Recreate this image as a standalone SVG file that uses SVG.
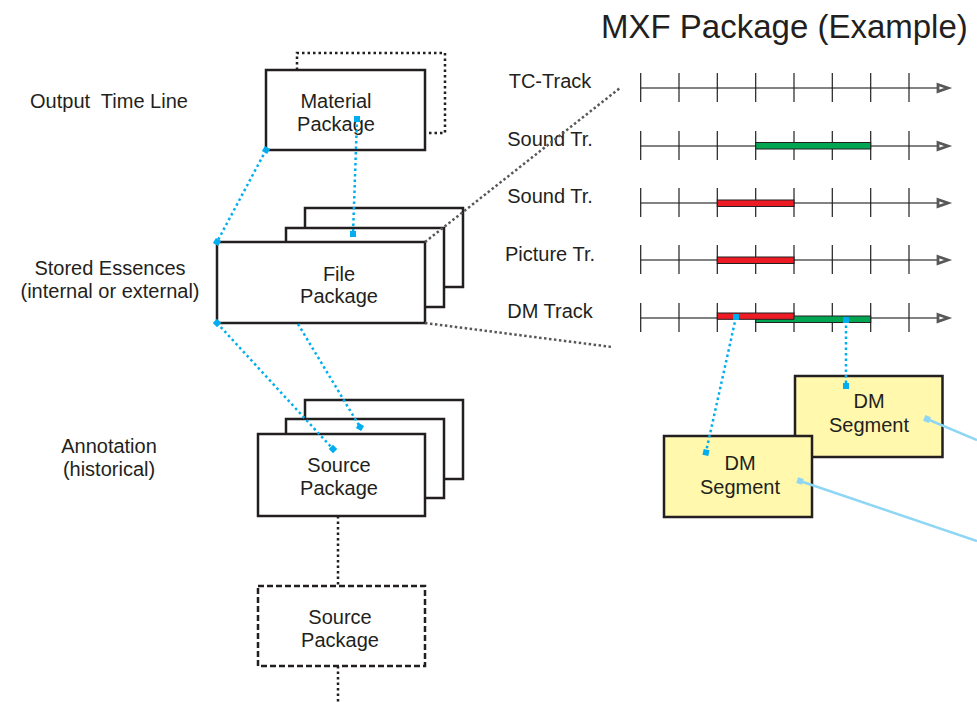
<svg xmlns="http://www.w3.org/2000/svg" width="977" height="702" viewBox="0 0 977 702">
<style>
text{font-family:"Liberation Sans",Arial,sans-serif;font-size:20px;fill:#231f20}
.c{text-anchor:middle}
.box{fill:#fff;stroke:#231f20;stroke-width:2.5}
.seg{fill:#fff8ad;stroke:#231f20;stroke-width:2.5}
.dotk{fill:none;stroke:#231f20;stroke-width:2.5;stroke-dasharray:2.5 3}
.dash{fill:#fff;stroke:#231f20;stroke-width:2.5;stroke-dasharray:6 3}
.gray{fill:none;stroke:#58585a;stroke-width:2.5;stroke-dasharray:2.5 2.5}
.blue{fill:none;stroke:#00aeef;stroke-width:2.5;stroke-dasharray:2.5 3}
.lb{fill:none;stroke:#8fd6f4;stroke-width:2.5}
.sq{fill:#00aeef}
.sql{fill:#8fd6f4}
.tl{stroke:#58585a;stroke-width:1.3}
.tk{stroke:#231f20;stroke-width:1.2}
.arr{fill:#fff;stroke:#58585a;stroke-width:2.8;stroke-linejoin:miter}
.g{fill:#00a651;stroke:#231f20;stroke-width:1}
.r{fill:#ed1c24;stroke:#231f20;stroke-width:1}
</style>
<defs>
<g id="track">
<line class="tl" x1="640.7" y1="0" x2="938" y2="0"/>
<line class="tk" x1="640.7" y1="-15" x2="640.7" y2="14"/>
<line class="tk" x1="679" y1="-15" x2="679" y2="14"/>
<line class="tk" x1="717.3" y1="-15" x2="717.3" y2="14"/>
<line class="tk" x1="755.7" y1="-15" x2="755.7" y2="14"/>
<line class="tk" x1="794" y1="-15" x2="794" y2="14"/>
<line class="tk" x1="832.3" y1="-15" x2="832.3" y2="14"/>
<line class="tk" x1="870.7" y1="-15" x2="870.7" y2="14"/>
<line class="tk" x1="909" y1="-15" x2="909" y2="14"/>
<path class="arr" d="M938,-3.5 L948,0 L938,3.5 Z"/>
</g>
</defs>

<text x="601" y="38" style="font-size:33px">MXF Package (Example)</text>

<g id="labels">
<text class="c" x="109" y="108" xml:space="preserve">Output  Time Line</text>
<text class="c" x="110" y="275">Stored Essences</text>
<text class="c" x="110" y="298">(internal or external)</text>
<text class="c" x="109" y="453">Annotation</text>
<text class="c" x="109" y="476">(historical)</text>
</g>

<g id="material-package">
<path class="dotk" d="M297,70 V53 H445 V133 H425"/>
<rect class="box" x="266" y="70" width="159" height="80"/>
<text class="c" x="336" y="108">Material</text>
<text class="c" x="336" y="131">Package</text>
</g>

<g id="file-package">
<rect class="box" x="305" y="208" width="158" height="79"/>
<rect class="box" x="286" y="228" width="158" height="79"/>
<rect class="box" x="217" y="242" width="208" height="81"/>
<text class="c" x="339" y="281">File</text>
<text class="c" x="339" y="303">Package</text>
</g>

<g id="source-package">
<rect class="box" x="305" y="400" width="158" height="79"/>
<rect class="box" x="286" y="419" width="158" height="79"/>
<rect class="box" x="258" y="434" width="167" height="82"/>
<text class="c" x="339" y="472">Source</text>
<text class="c" x="339" y="495">Package</text>
</g>

<g id="source-package-dashed">
<rect class="dash" x="258" y="586" width="167" height="80"/>
<text class="c" x="340" y="624">Source</text>
<text class="c" x="340" y="647">Package</text>
</g>

<g id="tracks">
<text class="c" x="550" y="88">TC-Track</text>
<use href="#track" y="88"/>
<text class="c" x="550" y="146">Sound Tr.</text>
<use href="#track" y="146"/>
<rect class="g" x="755.7" y="142.5" width="115" height="6.5"/>
<text class="c" x="550" y="203">Sound Tr.</text>
<use href="#track" y="203"/>
<rect class="r" x="717.3" y="200" width="76.7" height="6.5"/>
<text class="c" x="550" y="261">Picture Tr.</text>
<use href="#track" y="260"/>
<rect class="r" x="717.3" y="257" width="76.7" height="6.5"/>
<text class="c" x="550" y="318">DM Track</text>
<use href="#track" y="318"/>
<rect class="g" x="755.7" y="316" width="115" height="6.5"/>
<rect class="r" x="717.3" y="313" width="76.7" height="6.3"/>
</g>

<g id="dm-segment-1">
<rect class="seg" x="795" y="376" width="147.5" height="81"/>
<text class="c" x="869" y="408">DM</text>
<text class="c" x="869" y="432">Segment</text>
</g>
<g id="dm-segment-2">
<rect class="seg" x="664" y="436" width="148" height="81"/>
<text class="c" x="740" y="470">DM</text>
<text class="c" x="740" y="494">Segment</text>
</g>

<g id="connectors">
<path class="gray" d="M425,242 L620,88"/>
<path class="gray" d="M425,323 L612,347"/>
<path class="dotk" d="M338,516 V586"/>
<path class="dotk" d="M338,666 V702"/>
<path class="blue" d="M266,150 L217,242"/>
<path class="blue" d="M357,119 L353,234"/>
<path class="blue" d="M217,323 L333,449"/>
<path class="blue" d="M298,324 L360,427"/>
<path class="blue" d="M736,317 L706,452"/>
<path class="blue" d="M846,320 L846,386"/>
<path class="lb" d="M927,419 L977,440"/>
<path class="lb" d="M800,481 L977,541"/>
<rect class="sq" x="263" y="147" width="6" height="6" transform="rotate(30 266 150)"/>
<rect class="sq" x="214" y="239" width="6" height="6" transform="rotate(30 217 242)"/>
<rect class="sq" x="354" y="116" width="6" height="6"/>
<rect class="sq" x="350" y="231" width="6" height="6"/>
<rect class="sq" x="214" y="320" width="6" height="6" transform="rotate(45 217 323)"/>
<rect class="sq" x="330" y="446" width="6" height="6" transform="rotate(45 333 449)"/>
<rect class="sq" x="357" y="424" width="6" height="6" transform="rotate(30 360 427)"/>
<rect class="sq" x="733" y="314" width="6" height="6"/>
<rect class="sq" x="843" y="317" width="6" height="6"/>
<rect class="sq" x="703" y="449.5" width="6" height="6" transform="rotate(12 706 452.5)"/>
<rect class="sq" x="843" y="383" width="6" height="6"/>
<rect class="sql" x="924" y="416" width="6" height="6" transform="rotate(22 927 419)"/>
<rect class="sql" x="797" y="478" width="6" height="6" transform="rotate(18 800 481)"/>
</g>
</svg>
